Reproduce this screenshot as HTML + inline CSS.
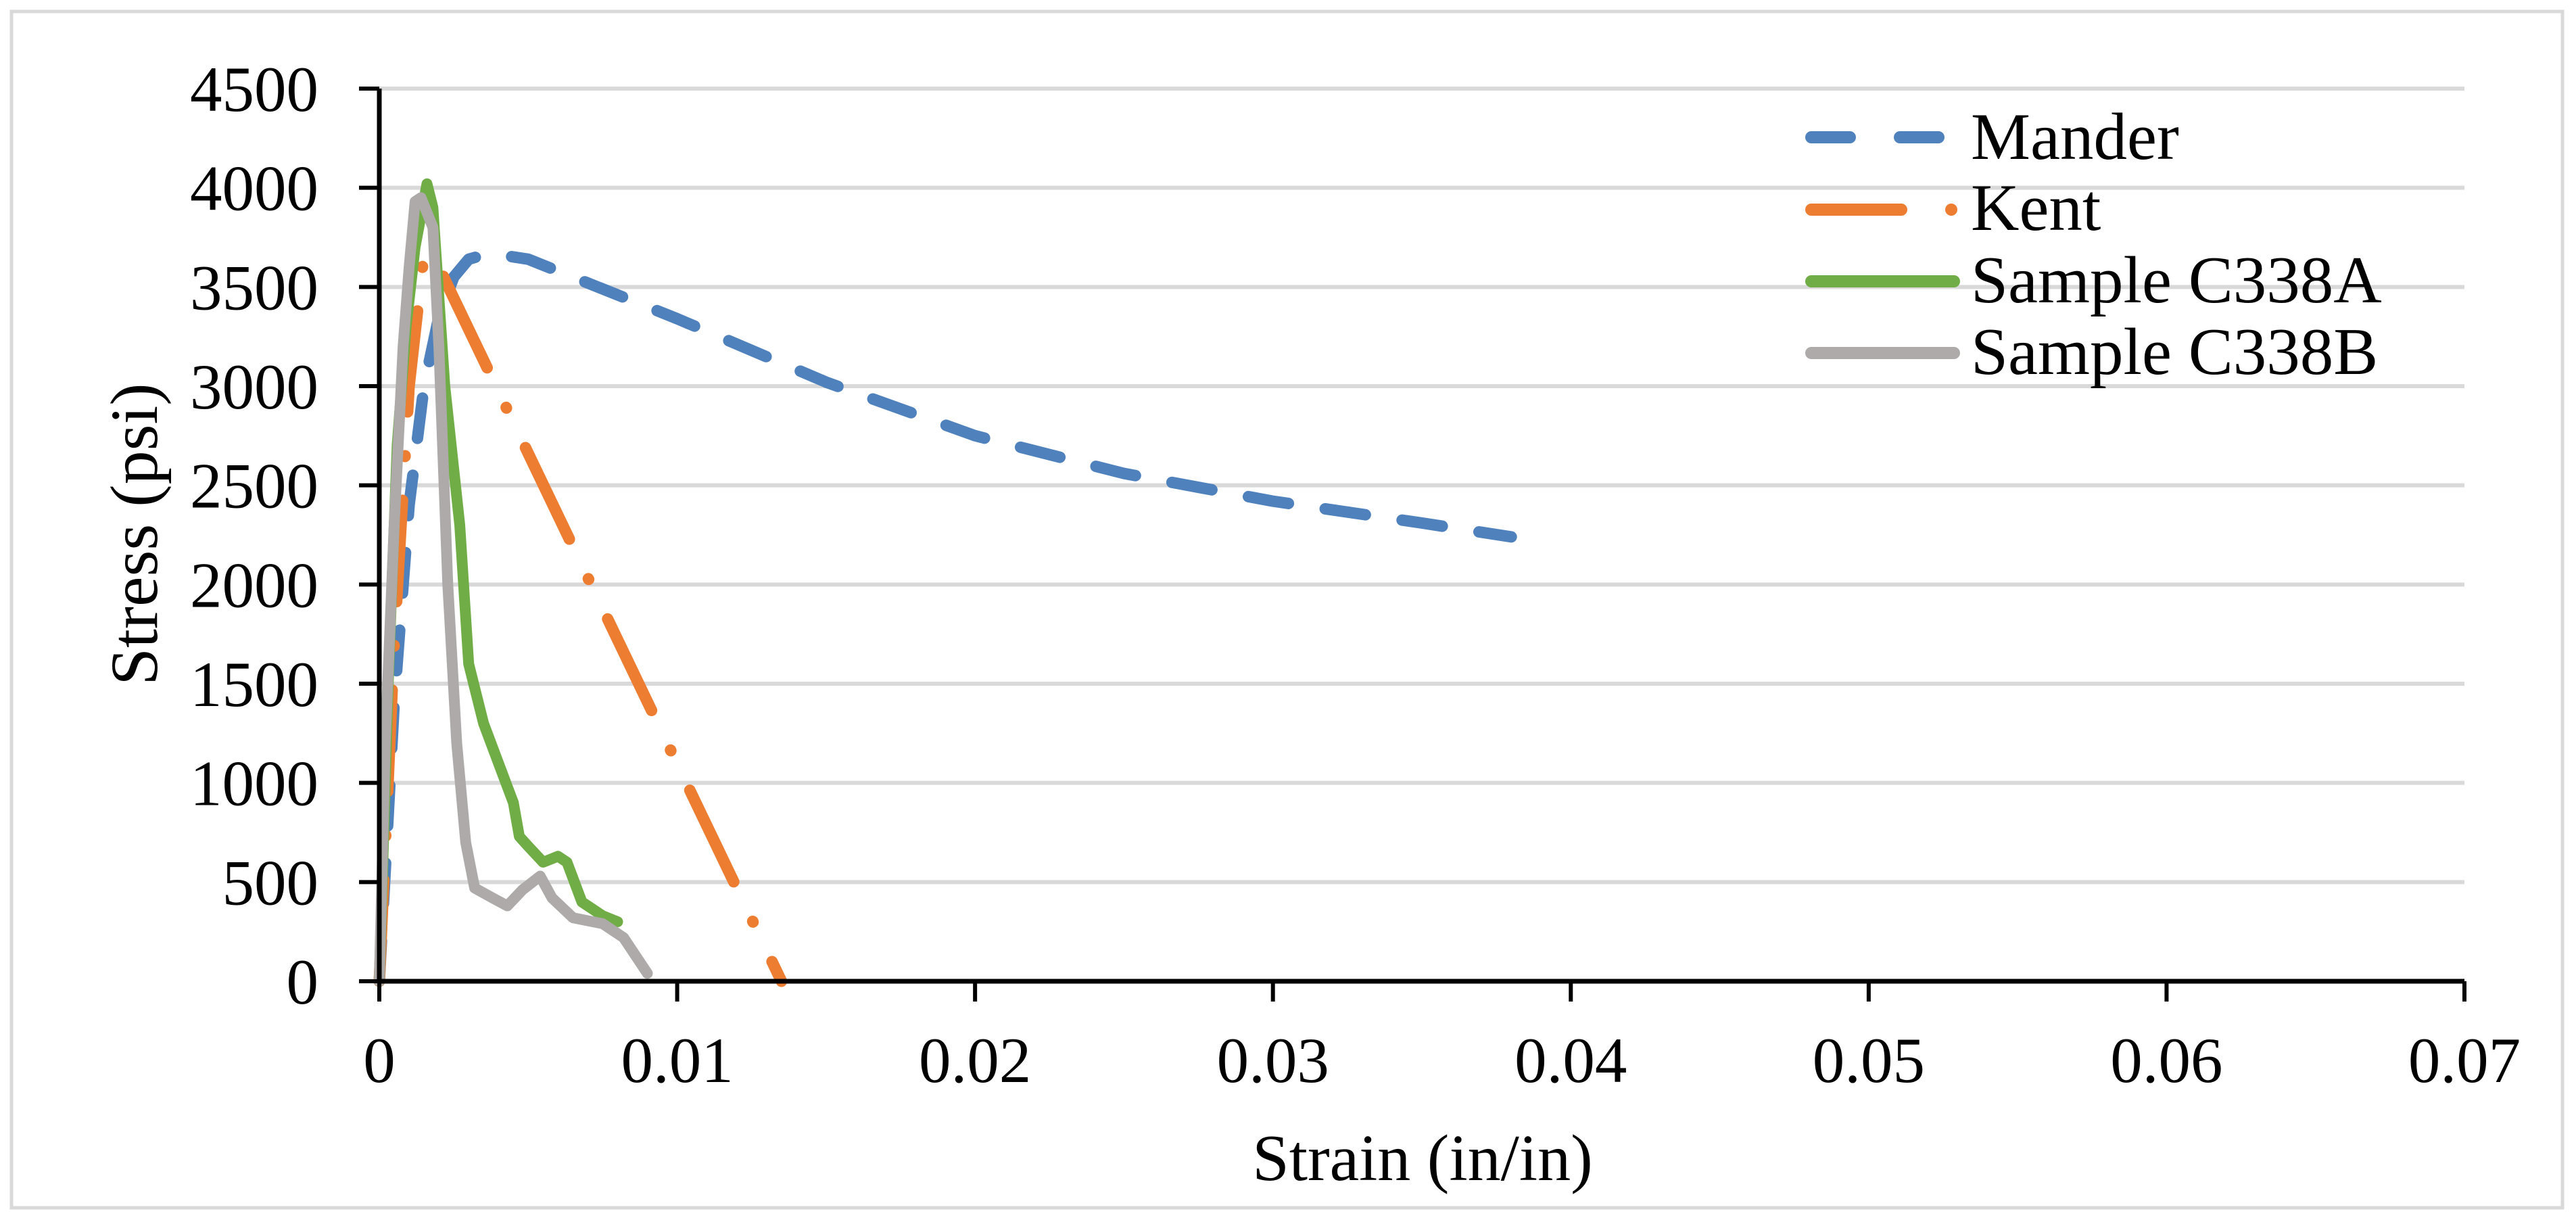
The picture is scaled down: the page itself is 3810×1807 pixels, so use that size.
<!DOCTYPE html>
<html><head><meta charset="utf-8"><style>
html,body{margin:0;padding:0;background:#fff;}
svg{display:block;}
text{font-family:"Liberation Serif","DejaVu Serif",serif;fill:#000;}
</style></head><body>
<svg id="chart" width="3810" height="1807" viewBox="0 0 3810 1807" xmlns="http://www.w3.org/2000/svg" font-family="Liberation Serif, serif">
<rect x="17" y="17" width="3773" height="1769" fill="#fff" stroke="#d9d9d9" stroke-width="5"/>
<g id="grid"></g>
<g id="series"></g>
<g id="axes"></g>
<text x="2104" y="1745" font-size="98" text-anchor="middle" font-family="Liberation Serif, serif">Strain (in/in)</text>
<text x="232" y="790" font-size="100" text-anchor="middle" font-family="Liberation Serif, serif" transform="rotate(-90 232 790)">Stress (psi)</text>
<g font-family="Liberation Serif, serif">
<line x1="2679" y1="203" x2="2867" y2="203" stroke="#4f81bd" stroke-width="18" stroke-linecap="round" stroke-dasharray="57 74"/>
<text x="2915" y="235" font-size="99">Mander</text>
<line x1="2679" y1="310" x2="2812" y2="310" stroke="#ed7d31" stroke-width="18" stroke-linecap="round"/>
<circle cx="2886" cy="310" r="9" fill="#ed7d31"/>
<text x="2915" y="340" font-size="99">Kent</text>
<line x1="2679" y1="416" x2="2890" y2="416" stroke="#70ad47" stroke-width="18" stroke-linecap="round"/>
<text x="2915" y="447" font-size="99">Sample C338A</text>
<line x1="2679" y1="522" x2="2890" y2="522" stroke="#aeaaaa" stroke-width="18" stroke-linecap="round"/>
<text x="2915" y="553" font-size="99">Sample C338B</text>
</g>
</svg>
<script>
const xTicks = [0, 0.01, 0.02, 0.03, 0.04, 0.05, 0.06, 0.07];
const xTickLabels = ["0", "0.01", "0.02", "0.03", "0.04", "0.05", "0.06", "0.07"];
const yTicks = [0, 500, 1000, 1500, 2000, 2500, 3000, 3500, 4000, 4500];
const manderStrain = [0,0.0005,0.001,0.0015,0.002,0.0025,0.003,0.0037,0.005,0.01,0.015,0.02,0.025,0.03,0.035,0.038];
const manderStress = [0,1400,2400,3000,3350,3550,3640,3670,3640,3340,3020,2750,2560,2420,2310,2240];
const kentStrain = [0,0.0005,0.001,0.0015,0.002,0.0135];
const kentStress = [0,1700,3000,3670,3600,0];
const aStrain = [0,0.0003,0.0006,0.0009,0.0012,0.0016,0.0018,0.0022,0.0027,0.003,0.0035,0.004,0.0045,0.0047,0.005,0.0055,0.006,0.0063,0.0068,0.0075,0.008];
const aStress = [0,1500,2700,3300,3700,4020,3900,3000,2300,1600,1300,1100,900,730,680,600,630,600,400,330,300];
const bStrain = [0,0.0002,0.0005,0.0008,0.001,0.0012,0.0014,0.0018,0.002,0.0023,0.0026,0.0029,0.0032,0.0038,0.0043,0.0048,0.0054,0.0058,0.0065,0.0075,0.0082,0.009];
const bStress = [0,1200,2300,3200,3600,3930,3950,3800,3200,2000,1200,700,470,420,380,460,530,420,320,290,220,40];

const NS = "http://www.w3.org/2000/svg";
const X0 = 561, X1 = 3645, Y0 = 1451, Y1 = 131;
function sx(v){ return X0 + (v/0.07)*(X1-X0); }
function sy(v){ return Y0 - (v/4500)*(Y0-Y1); }
function mk(tag, attrs, parent){ const e=document.createElementNS(NS,tag); for(const k in attrs) e.setAttribute(k, attrs[k]); parent.appendChild(e); return e; }

const grid = document.getElementById('grid');
const axes = document.getElementById('axes');
yTicks.forEach(function(t){
  const y = sy(t);
  if (t>0) {
    const g = mk('line',{x1:X0,y1:y,x2:X1,y2:y,stroke:'#d9d9d9','stroke-width':6},grid);
    
    
  }
  const tk = mk('line',{x1:X0-30,y1:y,x2:X0,y2:y,stroke:'#000','stroke-width':6},axes);
  
  
  const lb = mk('text',{x:471,y:y+33,'font-size':95,'text-anchor':'end','font-family':'Liberation Serif, serif'},axes);
  lb.textContent = String(t);
  
  
});
xTicks.forEach(function(t,i){
  const x = sx(t);
  const tk = mk('line',{x1:x,y1:Y0,x2:x,y2:Y0+30,stroke:'#000','stroke-width':6},axes);
  
  
  const lb = mk('text',{x:x,y:1600,'font-size':95,'text-anchor':'middle','font-family':'Liberation Serif, serif'},axes);
  lb.textContent = xTickLabels[i];
  
  
});
const ya = mk('line',{x1:X0,y1:Y1,x2:X0,y2:Y0,stroke:'#000','stroke-width':7},axes);


const xa = mk('line',{x1:X0,y1:Y0,x2:X1,y2:Y0,stroke:'#000','stroke-width':7},axes);



const series = document.getElementById('series');
function path(xs, ys){ return xs.map(function(v,i){ return (i?'L':'M')+sx(v).toFixed(1)+' '+sy(ys[i]).toFixed(1); }).join(' '); }
const pm = mk('path',{d:path(manderStrain,manderStress),fill:'none',stroke:'#4f81bd','stroke-width':17,'stroke-linecap':'round','stroke-linejoin':'round','stroke-dasharray':'60 55'},series);


const pk = mk('path',{d:path(kentStrain,kentStress),fill:'none',stroke:'#ed7d31','stroke-width':17,'stroke-linecap':'round','stroke-linejoin':'round','stroke-dasharray':'150 65 1 65'},series);


const pa = mk('path',{d:path(aStrain,aStress),fill:'none',stroke:'#70ad47','stroke-width':16,'stroke-linecap':'round','stroke-linejoin':'round'},series);


const pb = mk('path',{d:path(bStrain,bStress),fill:'none',stroke:'#aeaaaa','stroke-width':16,'stroke-linecap':'round','stroke-linejoin':'round'},series);


</script>
</body></html>
